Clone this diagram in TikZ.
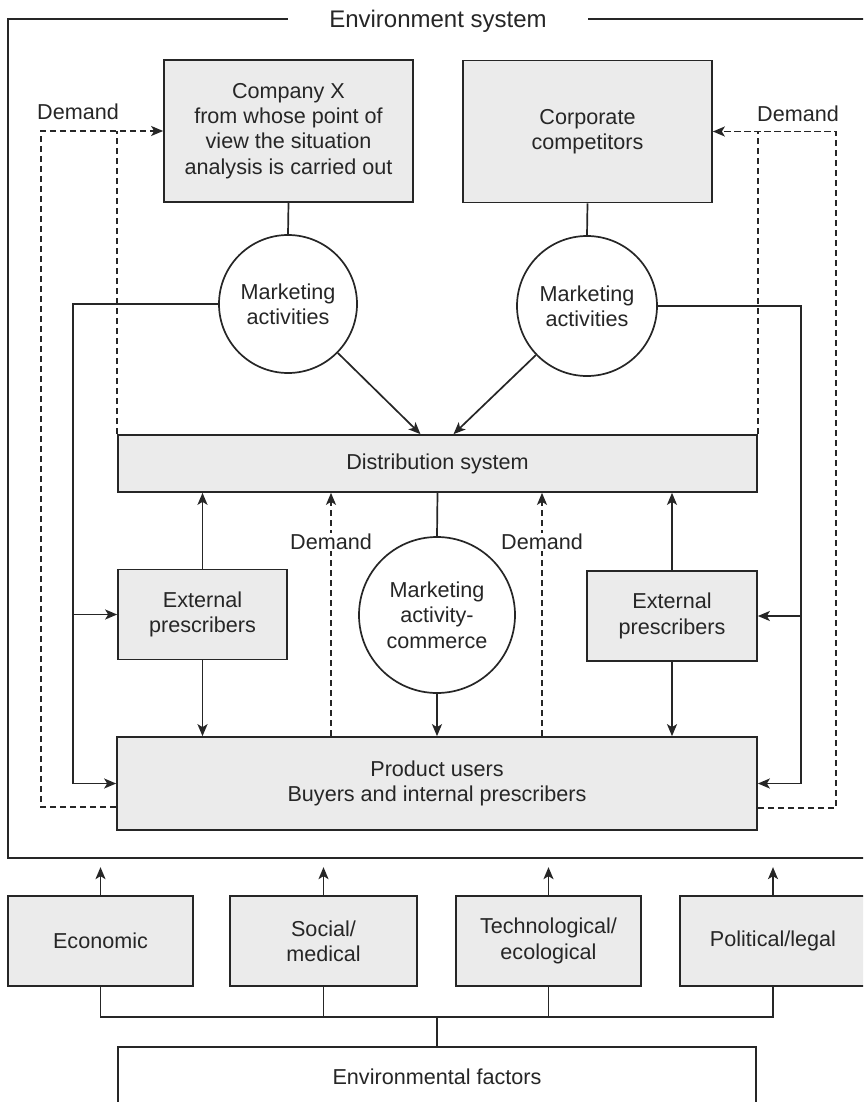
\documentclass[tikz,border=0pt]{standalone}
\usepackage{fontspec}
\setmainfont{Liberation Sans}
\usetikzlibrary{arrows.meta,calc}
\definecolor{ink}{HTML}{262626}
\definecolor{boxfill}{HTML}{EBEBEB}
\begin{document}
\begin{tikzpicture}[x=1pt,y=-1pt,
  every node/.style={font=\fontsize{21.6}{25.3}\selectfont, align=center, text=ink},
  box/.style={draw=ink, fill=boxfill, line width=1.7pt, inner sep=0pt},
  plainbox/.style={draw=ink, fill=white, line width=1.7pt, inner sep=0pt},
  ring/.style={draw=ink, fill=white, circle, line width=1.7pt, inner sep=0pt},
  link/.style={draw=ink, line width=1.7pt},
  tip/.style={-{Stealth[length=12pt,width=10pt,inset=3pt]}},
  arr/.style={link, tip},
  dem/.style={link, dash pattern=on 6.5pt off 3.5pt},
  demarr/.style={dem, tip},
  label/.style={fill=white, inner sep=1.5pt}
]
\useasboundingbox (0,0) rectangle (863,1102);
\clip (0,0) rectangle (863,1102);

% environment frame and its title
\draw[link] (8,19) rectangle (875,858);
\node[fill=white, minimum width=300pt, inner sep=0pt, font=\fontsize{24}{28}\selectfont] (envtitle) at (438,21) {Environment system};

% companies
\node[box, minimum width=249pt, minimum height=142pt] (company) at (288.5,131)
  {Company X\\from whose point of\\view the situation\\analysis is carried out};
\node[box, minimum width=249pt, minimum height=142pt] (rivals) at (587.5,131.5)
  {Corporate\\competitors};

% marketing circles
\node[ring, minimum size=138pt] (mkl) at (288,304) {Marketing\\activities};
\node[ring, minimum size=140pt] (mkr) at (587,306) {Marketing\\activities};

% distribution and users
\node[box, minimum width=639pt, minimum height=57pt] (dist) at (437.5,463.5) {Distribution system};
\node[box, minimum width=169pt, minimum height=90pt] (extl) at (202.5,614.5) {External\\prescribers};
\node[box, minimum width=170pt, minimum height=90pt] (extr) at (672,616) {External\\prescribers};
\node[ring, minimum size=156pt] (mkc) at (437,615) {Marketing\\activity-\\commerce};
\node[box, minimum width=640pt, minimum height=93pt] (users) at (437,783.5)
  {Product users\\Buyers and internal prescribers};

% environmental factors
\node[box, minimum width=185pt, minimum height=90pt] (econ) at (100.5,941) {Economic};
\node[box, minimum width=187pt, minimum height=90pt] (social) at (323.5,941) {Social/\\medical};
\node[box, minimum width=185pt, minimum height=90pt] (tech) at (548.5,941) {Technological/\\ecological};
\node[box, minimum width=186pt, minimum height=90pt] (polit) at (773,941) {Political/legal};
\node[plainbox, minimum width=638pt, minimum height=60pt] (factors) at (437,1077) {Environmental factors};

% companies to their marketing activities
\draw[link] (company.south) -- (mkl.north);
\draw[link] (rivals.south) -- (mkr.north);

% marketing activities into distribution
\coordinate (dl) at ($(dist.north)+(-17,0)$);
\coordinate (dr) at ($(dist.north)+(16,0)$);
\draw[arr] (mkl) -- (dl);
\draw[arr] (mkr) -- (dr);

% side rails to prescribers and users
\coordinate (lrail) at (73,304);
\coordinate (rrail) at (801,306);
\draw[arr] (mkl.west) -- (lrail) |- (users.west);
\draw[arr] (lrail |- extl.west) -- (extl.west);
\draw[arr] (mkr.east) -- (rrail) |- (users.east);
\draw[arr] (rrail |- extr.east) -- (extr.east);

% prescribers between distribution and users
\draw[arr] (extl.north) -- (extl.north |- dist.south);
\draw[arr] (extl.south) -- (extl.south |- users.north);
\draw[arr] (extr.north) -- (extr.north |- dist.south);
\draw[arr] (extr.south) -- (extr.south |- users.north);

% commerce
\draw[link] (dist.south) -- (mkc.north);
\draw[arr] (mkc.south) -- (mkc.south |- users.north);

% demand flows up to distribution
\coordinate (dmA) at ($(users.north)+(-106,0)$);
\coordinate (dmB) at ($(users.north)+(105,0)$);
\draw[demarr] (dmA) -- (dmA |- dist.south);
\draw[demarr] (dmB) -- (dmB |- dist.south);
\node[label] (demA) at (331,542) {Demand};
\node[label] (demB) at (542,542) {Demand};

% demand flows back to the companies
\coordinate (lo) at (41,131);
\coordinate (lb) at (41,807);
\draw[demarr] (users.west |- lb) -- (lb) -- (lo) -- (company.west);
\draw[dem] (dist.north west) -- (dist.north west |- lo);
\coordinate (ro) at (836,131.5);
\coordinate (rb) at (836,808);
\draw[demarr] (users.east |- rb) -- (rb) -- (ro) -- (rivals.east);
\draw[dem] (dist.north east) -- (dist.north east |- ro);
\node[inner sep=0pt] (demL) at (78,112) {Demand};
\node[inner sep=0pt] (demR) at (798,114) {Demand};

% factors act on the environment
\foreach \f in {econ,social,tech,polit}
  \draw[arr] (\f.north) -- ++(0,-28);
\coordinate (bus) at (437,1017);
\draw[link] (econ.south) |- (bus);
\draw[link] (polit.south) |- (bus);
\draw[link] (social.south) -- (social.south |- bus);
\draw[link] (tech.south) -- (tech.south |- bus);
\draw[link] (bus) -- (factors.north);
\end{tikzpicture}
\end{document}
